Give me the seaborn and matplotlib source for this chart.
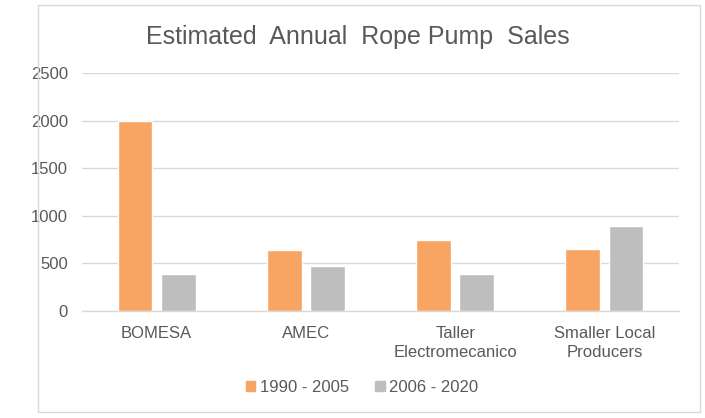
import matplotlib
matplotlib.use("Agg")
import matplotlib.pyplot as plt
import seaborn as sns
import pandas as pd
from matplotlib.patches import Rectangle

categories = ["BOMESA", "AMEC", "Taller\nElectromecanico", "Smaller Local\nProducers"]
series_names = ["1990 - 2005", "2006 - 2020"]
sales_1990_2005 = [2000, 645, 750, 655]
sales_2006_2020 = [390, 475, 390, 890]
y_ticks = [0, 500, 1000, 1500, 2000, 2500]

df = pd.DataFrame({
    "Producer": categories * 2,
    "Period": [series_names[0]] * 4 + [series_names[1]] * 4,
    "Sales": sales_1990_2005 + sales_2006_2020,
})

sns.set_theme(style="white")
plt.rcParams["font.family"] = ["Liberation Sans", "DejaVu Sans"]

text_color = "#595959"
fig = plt.figure(figsize=(7.05, 4.18), dpi=100)
fig.patch.set_facecolor("white")
ax = fig.add_axes([82 / 705, 1 - 311 / 418, (679 - 82) / 705, (311 - 73.3) / 418])

palette = {series_names[0]: "#F8A463", series_names[1]: "#BEBEBE"}
sns.barplot(data=df, x="Producer", y="Sales", hue="Period", palette=palette,
            width=0.58, gap=0.2, ax=ax, saturation=1, legend=False, zorder=3)

ax.set_ylim(0, 2500)
ax.set_xlim(-0.5, 3.5)
ax.set_yticks(y_ticks)
ax.set_yticklabels([str(t) for t in y_ticks])
ax.grid(axis="y", color="#D9D9D9", linewidth=1, zorder=0)
ax.set_axisbelow(True)
for s in ["top", "right", "left"]:
    ax.spines[s].set_visible(False)
ax.spines["bottom"].set_color("#D9D9D9")
ax.spines["bottom"].set_linewidth(1)
ax.set_xlabel("")
ax.set_ylabel("")
ax.tick_params(axis="both", length=0, labelsize=12, colors=text_color)
ax.tick_params(axis="x", pad=11)
ax.tick_params(axis="y", pad=10)
for lbl in ax.get_xticklabels():
    lbl.set_linespacing(1.3)

fig.text(358 / 705, 1 - 37 / 418, "Estimated  Annual  Rope Pump  Sales", ha="center", va="center",
         fontsize=18, color=text_color)

handles = [Rectangle((0, 0), 1, 1, color=palette[n]) for n in series_names]
fig.legend(handles, series_names, loc="center", bbox_to_anchor=(362 / 705, 1 - 387 / 418),
           ncol=2, frameon=False, fontsize=12, labelcolor=text_color,
           handlelength=0.55, handleheight=0.55, handletextpad=0.25, columnspacing=1.6)

fig.add_artist(Rectangle((38 / 705, 1 - 412 / 418), (700 - 38) / 705, (412 - 5) / 418,
                         transform=fig.transFigure, fill=False, edgecolor="#D9D9D9", linewidth=1))

fig.savefig("out.png", dpi=100)
